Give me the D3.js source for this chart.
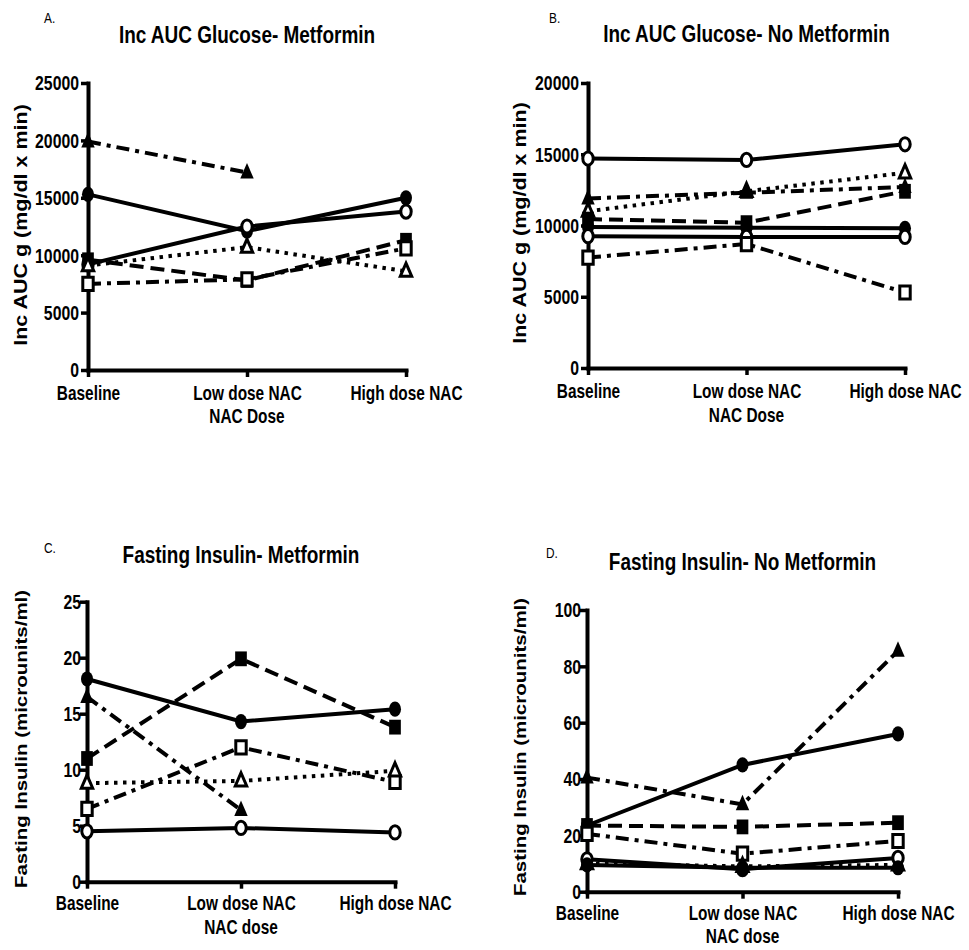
<!DOCTYPE html>
<html><head><meta charset="utf-8">
<script src="https://cdn.jsdelivr.net/npm/d3@7"></script>
<style>
body{margin:0;background:#fff}
svg{display:block}
text{font-family:"Liberation Sans",Arial,Helvetica,sans-serif;fill:#000}
</style>
</head><body>
<svg id="c" width="969" height="950"></svg>
<script>
// ---------- DATA ----------
const categories = ["Baseline", "Low dose NAC", "High dose NAC"];

// Panel A: Inc AUC Glucose - Metformin
const markersA = ["filledTriangle", "filledCircle", "openCircle", "filledSquare", "openTriangle", "openSquare"];
const valuesA = [
  [19900, 17200, null],
  [15300, 12100, 15000],
  [9200, 12500, 13800],
  [9600, 7800, 11300],
  [9100, 10700, 8600],
  [7500, 7900, 10600]
];
const ticksA = [0, 5000, 10000, 15000, 20000, 25000];

// Panel B: Inc AUC Glucose - No Metformin
const markersB = ["openCircle", "openTriangle", "filledTriangle", "filledSquare", "filledCircle", "openCircle", "openSquare"];
const valuesB = [
  [14700, 14600, 15700],
  [11000, 12400, 13700],
  [11900, 12300, 12700],
  [10450, 10200, 12400],
  [9900, 9850, 9800],
  [9250, 9200, 9200],
  [7750, 8700, 5300]
];
const ticksB = [0, 5000, 10000, 15000, 20000];

// Panel C: Fasting Insulin - Metformin
const markersC = ["filledCircle", "filledSquare", "filledTriangle", "openSquare", "openTriangle", "openCircle"];
const valuesC = [
  [18.1, 14.3, 15.4],
  [11.0, 19.9, 13.8],
  [16.5, 6.4, null],
  [6.5, 12.0, 8.9],
  [8.8, 9.0, 9.9],
  [4.5, 4.8, 4.4]
];
const ticksC = [0, 5, 10, 15, 20, 25];

// Panel D: Fasting Insulin - No Metformin
const markersD = ["filledTriangle", "filledCircle", "filledSquare", "openSquare", "openTriangle", "openCircle", "filledCircle"];
const valuesD = [
  [40.5, 31, 85.5],
  [23.5, 45, 56],
  [23.5, 23, 24.5],
  [20.5, 13.5, 18],
  [10, 9, 9.5],
  [11.5, 8, 12],
  [9.5, 8.5, 8.5]
];
const ticksD = [0, 20, 40, 60, 80, 100];

// ---------- DRAWING ----------
const svg = d3.select("#c");
const SX = 0.79; // horizontal condensation of the text

function ntext(g, x, y, s, size, anchor, weight) {
  return g.append("text")
    .attr("transform", `translate(${x},${y}) scale(${SX},1)`)
    .attr("text-anchor", anchor || "middle")
    .style("font-size", size + "px")
    .style("font-weight", weight || "bold")
    .text(s);
}

const lineStyle = {
  filledCircle: null, openCircle: null,
  filledSquare: "14,7",
  filledTriangle: "13,6,4,6", openSquare: "13,6,4,6",
  openTriangle: "3.5,5.5"
};

function markerPath(type) {
  if (type.endsWith("Circle")) {
    const r = type === "filledCircle" ? 7.6 : 6.6;
    return `M${-r},0A${r},${r} 0 1,0 ${r},0A${r},${r} 0 1,0 ${-r},0Z`;
  }
  if (type.endsWith("Square")) {
    const h = type === "filledSquare" ? 7.4 : 6.6;
    return `M${-h},${-h}H${h}V${h}H${-h}Z`;
  }
  const t = type === "filledTriangle" ? 1 : 0.85;
  return `M0,${-9.5 * t}L${8.5 * t},${6 * t}L${-8.5 * t},${6 * t}Z`;
}

function panel(cfg) {
  const g = svg.append("g");
  const x = d3.scalePoint().domain(categories).range([cfg.x0, cfg.x1]).padding(0);
  const y = d3.scaleLinear().domain([0, cfg.ticks[cfg.ticks.length - 1]]).range([cfg.yb, cfg.yt]);

  // panel letter
  ntext(g, cfg.lx, cfg.ly, cfg.letter, 15, "start", "normal");
  // title
  ntext(g, (cfg.x0 + cfg.x1) / 2 + cfg.tdx, cfg.ty, cfg.title, 24, "middle");

  // y axis
  const ya = g.append("g").attr("transform", `translate(${cfg.x0},0)`)
    .call(d3.axisLeft(y).tickValues(cfg.ticks).tickSize(7).tickSizeOuter(0).tickFormat(d3.format("d")));
  ya.select(".domain").attr("stroke-width", 4).attr("stroke-linecap", "square");
  ya.selectAll(".tick line").attr("stroke-width", 3.5);
  ya.selectAll(".tick text")
    .attr("x", -cfg.tpad / SX).attr("dy", "0.34em")
    .attr("transform", `scale(${SX},1)`)
    .style("font-size", "20px").style("font-weight", "bold")
    .style("font-family", '"Liberation Sans",Arial,sans-serif');

  // x axis
  const xa = g.append("g").attr("transform", `translate(0,${cfg.yb})`)
    .call(d3.axisBottom(x).tickSize(7).tickSizeOuter(0));
  xa.select(".domain").attr("stroke-width", 4).attr("stroke-linecap", "square");
  xa.selectAll(".tick line").attr("stroke-width", 3.5);
  xa.selectAll(".tick text")
    .attr("y", cfg.xl1).attr("dy", 0)
    .attr("transform", `scale(${SX},1)`)
    .style("font-size", "19.5px").style("font-weight", "bold")
    .style("font-family", '"Liberation Sans",Arial,sans-serif');

  // x axis title
  ntext(g, x(categories[1]), cfg.yb + cfg.xl2, cfg.xtitle, 19.5, "middle");

  // y axis title (rotated)
  g.append("text")
    .attr("transform", `translate(${cfg.yx},${cfg.yc}) rotate(-90) scale(1,0.82)`)
    .attr("text-anchor", "middle")
    .style("font-size", cfg.ysize + "px").style("font-weight", "bold")
    .text(cfg.ytitle);

  // lines
  const line = d3.line().defined(d => d.v != null).x(d => x(d.c)).y(d => y(d.v));
  cfg.values.forEach((vals, i) => {
    const pts = vals.map((v, j) => ({ c: categories[j], v }));
    g.append("path").datum(pts)
      .attr("d", line)
      .attr("fill", "none").attr("stroke", "#000")
      .attr("stroke-width", 4)
      .attr("stroke-dasharray", lineStyle[cfg.markers[i]]);
  });
  // markers
  cfg.values.forEach((vals, i) => {
    const type = cfg.markers[i];
    const open = type.startsWith("open");
    vals.forEach((v, j) => {
      if (v == null) return;
      g.append("path")
        .attr("d", markerPath(type))
        .attr("transform", `translate(${x(categories[j])},${y(v)}) scale(${SX},1)`)
        .attr("fill", open ? "#fff" : "#000")
        .attr("stroke", "#000")
        .attr("stroke-width", open ? 3 : 0)
        .attr("vector-effect", "non-scaling-stroke");
    });
  });
}

panel({ letter: "A.", lx: 44, ly: 23, title: "Inc AUC Glucose- Metformin", ty: 43, tdx: 0,
  x0: 88, x1: 406, yb: 370, yt: 83, ticks: ticksA, tpad: 9,
  xl1: 30, xl2: 53, xtitle: "NAC Dose",
  ytitle: "Inc AUC g (mg/dl x min)", yx: 27, yc: 225, ysize: 21.5,
  markers: markersA, values: valuesA });

panel({ letter: "B.", lx: 549, ly: 23, title: "Inc AUC Glucose- No Metformin", ty: 42, tdx: 0,
  x0: 588, x1: 905, yb: 368, yt: 83, ticks: ticksB, tpad: 9,
  xl1: 30, xl2: 54, xtitle: "NAC Dose",
  ytitle: "Inc AUC g (mg/dl x min)", yx: 526, yc: 223, ysize: 21.5,
  markers: markersB, values: valuesB });

panel({ letter: "C.", lx: 44, ly: 553, title: "Fasting Insulin- Metformin", ty: 563, tdx: 0,
  x0: 87, x1: 395, yb: 881.7, yt: 601.7, ticks: ticksC, tpad: 6,
  xl1: 28, xl2: 52, xtitle: "NAC dose",
  ytitle: "Fasting Insulin (microunits/ml)", yx: 27, yc: 739, ysize: 20.5,
  markers: markersC, values: valuesC });

panel({ letter: "D.", lx: 546, ly: 558, title: "Fasting Insulin- No Metformin", ty: 570, tdx: 0,
  x0: 587, x1: 898, yb: 891.7, yt: 610, ticks: ticksD, tpad: 6,
  xl1: 28, xl2: 51, xtitle: "NAC dose",
  ytitle: "Fasting Insulin (microunits/ml)", yx: 526, yc: 747, ysize: 20.5,
  markers: markersD, values: valuesD });
</script>
</body></html>
